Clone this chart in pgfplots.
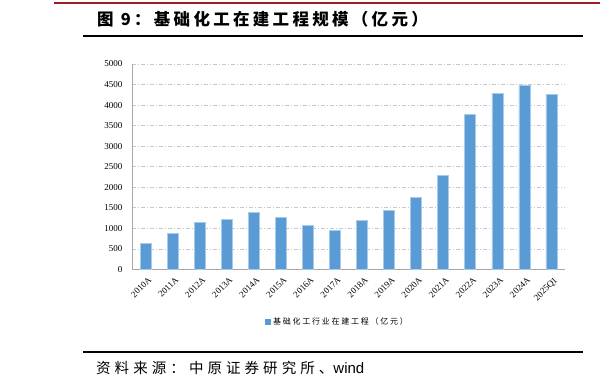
\documentclass[border=0pt]{standalone}
\usepackage{pgfplots}
\pgfplotsset{compat=1.18}
\usepackage{fontspec}
\setmainfont{Liberation Serif}
\newfontfamily\cjk{Noto Sans CJK SC}
\newfontfamily\cjktitle[LetterSpace=20]{Noto Sans CJK SC}
\newfontfamily\cjksrc[LetterSpace=28]{Noto Sans CJK SC}
\newfontfamily\cjkleg[LetterSpace=22]{Noto Sans CJK SC}
\newfontfamily\latinsans{Liberation Sans}
\definecolor{barblue}{HTML}{5B9BD5}
\definecolor{baredge}{HTML}{A9CBEA}
\definecolor{topred}{RGB}{155,30,35}
\definecolor{gridgray}{HTML}{C8C8C8}
\definecolor{axisgray}{HTML}{A6A6A6}
\begin{document}
\begin{tikzpicture}[x=1pt,y=1pt]
\path[use as bounding box] (0,0) rectangle (600,389);
% decorations
\draw[topred, line width=2pt] (54,385.5) -- (600,385.5);
\draw[black, line width=2.5pt] (83,353) -- (583,353);
\draw[black, line width=2.5pt] (83,37) -- (583,37);
\node[anchor=west, inner sep=0pt] at (97,370) {\cjktitle\bfseries\fontsize{16.5}{16.5}\selectfont 图 9：基础化工在建工程规模（亿元）};
\node[anchor=west, inner sep=0pt] at (96,21) {\cjksrc\fontsize{14.5}{14.5}\selectfont 资料来源：中原证券研究所、{\latinsans\fontsize{15}{15}\selectfont wind}};
\begin{axis}[
  at={(132pt,119.5pt)}, anchor=south west,
  scale only axis, width=433pt, height=205.5pt,
  xmin=-0.5, xmax=15.5, ymin=0, ymax=5000,
  ytick={0,500,1000,1500,2000,2500,3000,3500,4000,4500,5000},
  xtick={0,1,2,3,4,5,6,7,8,9,10,11,12,13,14,15},
  xticklabels={2010A,2011A,2012A,2013A,2014A,2015A,2016A,2017A,2018A,2019A,2020A,2021A,2022A,2023A,2024A,2025Q1},
  axis x line*=bottom, axis y line*=left,
  axis line style={draw=axisgray, line width=0.8pt, -},
  major tick length=0pt,
  ymajorgrids,
  grid style={gridgray, line width=0.8pt, dash pattern=on 4pt off 2pt on 1pt off 2pt},
  /pgf/number format/assume math mode=true,
  /pgf/number format/set thousands separator={},
  yticklabel style={font=\fontsize{9}{9}\selectfont, xshift=-6pt},
  xticklabel style={font=\fontsize{9}{9}\selectfont, rotate=45, anchor=north east, yshift=-3pt},
  ybar, bar width=11pt,
  legend style={at={(0.475,-0.255)}, anchor=center, draw=none, fill=none,
    font=\cjkleg\fontsize{8}{8}\selectfont},
  legend image code/.code={\fill[barblue] (0pt,-2.5pt) rectangle (5pt,2.5pt);},
]
\addplot[fill=barblue, draw=baredge, line width=0.6pt] coordinates {
(0,633) (1,885) (2,1153) (3,1226) (4,1396) (5,1266) (6,1071) (7,958)
(8,1193) (9,1429) (10,1745) (11,2281) (12,3774) (13,4286) (14,4489) (15,4269)
};
\addlegendentry{基础化工行业在建工程（亿元）}
\end{axis}
\end{tikzpicture}
\end{document}
